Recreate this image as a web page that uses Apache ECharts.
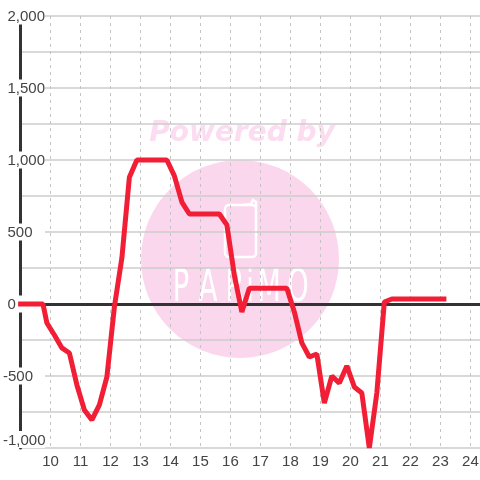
<!DOCTYPE html>
<html>
<head>
<meta charset="utf-8">
<script src="https://cdn.jsdelivr.net/npm/echarts@6/dist/echarts.min.js"></script>
<style>
html,body{margin:0;padding:0;background:#fff}
#main{width:480px;height:480px}
</style>
</head>
<body>
<div id="main"></div>
<script>
// hour of day
var hours = [8.92,9.75,9.88,10.13,10.38,10.63,10.88,11.13,11.38,11.63,11.88,12.13,12.38,12.63,12.88,13.13,13.38,13.63,13.88,14.13,14.38,14.63,14.88,15.13,15.38,15.63,15.88,16.13,16.38,16.63,16.88,17.13,17.38,17.63,17.88,18.13,18.38,18.63,18.88,19.13,19.38,19.63,19.88,20.13,20.38,20.63,20.88,21.13,21.38,21.63,21.88,22.13,22.38,22.63,22.88,23.2];
var values = [0,0,-132,-215,-305,-340,-562,-736,-805,-700,-507,-20,320,880,1000,1000,1000,1000,1000,890,708,625,625,625,625,625,549,200,-55,110,110,110,110,110,110,-55,-270,-368,-347,-688,-500,-549,-430,-576,-618,-1000,-618,14,35,35,35,35,35,35,35,35];

var points = hours.map(function(h,i){ return [h,values[i]] })

// watermark logo letters, drawn one by one because of the wide spacing
function logoLetter(ch,x){
  return {type:'text',z:-9,silent:true,x:x,y:290,scaleX:0.62,
    style:{text:ch,fill:'#fff',font:'44px "DejaVu Sans"',align:'center',verticalAlign:'middle'}}
}

var chart = echarts.init(document.getElementById('main'))
chart.setOption({
  animation:false,
  backgroundColor:'#fff',
  grid:{left:20.5,right:0,top:16,bottom:32,outerBoundsMode:'none'},
  xAxis:[{
    // zero line
    type:'value',min:9,max:24.32,position:'bottom',z:3,
    axisLine:{show:true,onZero:true,lineStyle:{color:'#333',width:3}},
    axisTick:{show:false},axisLabel:{show:false},splitLine:{show:false}
  },{
    type:'value',min:9,max:24.32,interval:1,position:'bottom',z:1,
    axisLine:{show:false,onZero:false},axisTick:{show:false},
    axisLabel:{
      color:'#444',fontSize:15,fontFamily:'Liberation Sans',margin:6,
      showMinLabel:false,showMaxLabel:false,
      formatter:function(v){ return v>=10 && v<=24 ? String(v) : '' }
    },
    splitLine:{show:true,lineStyle:{color:'#c4c4c4',type:[3,4],width:1}}
  }],
  yAxis:[{
    // grid lines only
    type:'value',min:-1000,max:2000,interval:250,position:'left',z:1,
    axisLine:{show:false},axisTick:{show:false},axisLabel:{show:false},
    splitLine:{show:true,lineStyle:{color:'#ccc',width:1.5}}
  },{
    type:'value',min:-1000,max:2000,interval:500,position:'left',z:5,
    axisLine:{show:true,onZero:false,lineStyle:{color:'#333',width:3}},
    axisTick:{show:false},
    axisLabel:{
      inside:true,align:'left',margin:-20.5,color:'#444',fontSize:15,fontFamily:'Liberation Sans',
      backgroundColor:'#fff',padding:[2,0,0,3],width:42,verticalAlignMinLabel:'bottom',
      // minus sign hangs to the left of the digits
      formatter:function(v){
        var s = v.toLocaleString('en-US')
        return v<0 ? s : '{p|'+s+'}'
      },
      rich:{p:{color:'#444',fontSize:15,fontFamily:'Liberation Sans',padding:[0,0,0,4.5]}}
    },
    splitLine:{show:false}
  }],
  graphic:[
    {type:'circle',z:-10,silent:true,shape:{cx:240,cy:259,r:99},style:{fill:'#fbd7ee'}},
    {type:'text',z:-10,silent:true,x:242,y:134,style:{text:'Powered by',fill:'#fcdcf0',font:'italic bold 28px "DejaVu Sans"',align:'center',verticalAlign:'middle'}},
    {type:'rect',z:-9,silent:true,shape:{x:225,y:205,width:31,height:52,r:4},style:{fill:'none',stroke:'#fff',lineWidth:2.5}},
    {type:'polyline',z:-9,silent:true,shape:{points:[[243,205],[251,204],[253,200],[256,202],[256,208]]},style:{fill:'none',stroke:'#fff',lineWidth:2.5}},
    logoLetter('P',181),logoLetter('A',208),logoLetter('R',235),logoLetter('i',250),logoLetter('M',269),logoLetter('O',298)
  ],
  series:[{
    type:'line',xAxisIndex:0,yAxisIndex:0,data:points,showSymbol:false,clip:false,z:6,
    lineStyle:{color:'#f21e36',width:5,join:'bevel'}
  }]
})
</script>
</body>
</html>
